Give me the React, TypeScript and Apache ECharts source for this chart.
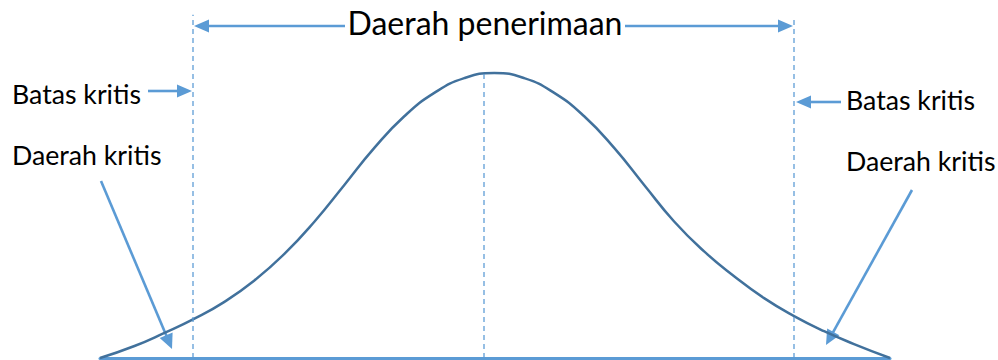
import { useEffect, useRef } from "react";
import * as echarts from "echarts";

// Curve: x in standard-deviation units, y as height relative to the peak
const curveX = [-2.63, -2.4, -2.2, -2.0, -1.8, -1.6, -1.4, -1.2, -1.0, -0.8, -0.6, -0.4, -0.2, 0, 0.2, 0.4, 0.6, 0.8, 1.0, 1.2, 1.4, 1.6, 1.8, 2.0, 2.2, 2.4, 2.64];
const curveY = [0, 0.042, 0.088, 0.138, 0.197, 0.272, 0.365, 0.478, 0.607, 0.737, 0.848, 0.93, 0.982, 1.0, 0.982, 0.93, 0.848, 0.737, 0.607, 0.479, 0.374, 0.287, 0.21, 0.147, 0.094, 0.049, 0];

// Critical bounds and centre line (x) with the heights their dashed lines reach (y)
const guideX = [-2.01, -0.07, 2.0];
const guideTop = [1.204, 1.0, 1.19];

// Texts
const titleText = "Daerah penerimaan";
const boundText = "Batas kritis";
const regionText = "Daerah kritis";

const CURVE = "#41719C";
const ACCENT = "#5B9BD5";
const FONT = "Lato";

function arrow(x1: number, y1: number, x2: number, y2: number, headLen = 15, headW = 13) {
  const dx = x2 - x1;
  const dy = y2 - y1;
  const L = Math.hypot(dx, dy);
  const ux = dx / L;
  const uy = dy / L;
  const bx = x2 - ux * headLen;
  const by = y2 - uy * headLen;
  const px = -uy;
  const py = ux;
  return [
    {
      type: "line",
      shape: { x1, y1, x2: bx + ux * 2, y2: by + uy * 2 },
      style: { stroke: ACCENT, lineWidth: 2.6 },
      silent: true,
    },
    {
      type: "polygon",
      shape: {
        points: [
          [x2, y2],
          [bx + (px * headW) / 2, by + (py * headW) / 2],
          [bx - (px * headW) / 2, by - (py * headW) / 2],
        ],
      },
      style: { fill: ACCENT },
      silent: true,
    },
  ];
}

function label(text: string, x: number, y: number, size: number, align = "left") {
  return {
    type: "text",
    silent: true,
    style: {
      text,
      x,
      y,
      fill: "#000",
      fontSize: size,
      fontFamily: FONT,
      align,
      verticalAlign: "middle",
    },
  };
}

export default function App() {
  const ref = useRef<HTMLDivElement>(null);
  useEffect(() => {
    document.body.style.margin = "0";
    const chart = echarts.init(ref.current!, undefined, { renderer: "svg" });
    const markData = guideX.map((x, i) => [
      { coord: [x, 0] },
      { coord: [x, guideTop[i]] },
    ]);
    chart.setOption({
      animation: false,
      backgroundColor: "#fff",
      grid: { left: 100, right: 108, top: 0, bottom: 2, containLabel: false },
      xAxis: {
        type: "value",
        min: curveX[0],
        max: curveX[curveX.length - 1],
        axisLine: { show: true, onZero: false, lineStyle: { color: ACCENT, width: 3 } },
        axisTick: { show: false },
        axisLabel: { show: false },
        splitLine: { show: false },
      },
      yAxis: {
        type: "value",
        min: 0,
        max: 1.256,
        show: false,
        splitLine: { show: false },
      },
      series: [
        {
          type: "line",
          data: curveX.map((x, i) => [x, curveY[i]]),
          smooth: 0.5,
          showSymbol: false,
          symbol: "none",
          clip: false,
          lineStyle: { color: CURVE, width: 2.5 },
          markLine: {
            silent: true,
            symbol: ["none", "none"],
            label: { show: false },
            lineStyle: { color: ACCENT, type: [5, 4], width: 1.5, opacity: 0.85 },
            data: markData,
          },
          z: 3,
        },
      ],
      graphic: [
        ...arrow(345, 26, 194, 26),
        ...arrow(625, 26, 793, 26),
        ...arrow(148, 91, 192, 91),
        ...arrow(841, 102, 796, 102),
        ...arrow(101, 181, 172, 349, 15, 14),
        ...arrow(912, 190, 826, 345, 15, 14),
        label(titleText, 485, 22, 32, "center"),
        label(boundText, 12, 94, 26.7),
        label(regionText, 12, 155, 26.7),
        label(boundText, 846, 100, 26.7),
        label(regionText, 846, 161, 26.7),
      ],
    });
    return () => chart.dispose();
  }, []);
  return <div ref={ref} style={{ width: 998, height: 360 }} />;
}
